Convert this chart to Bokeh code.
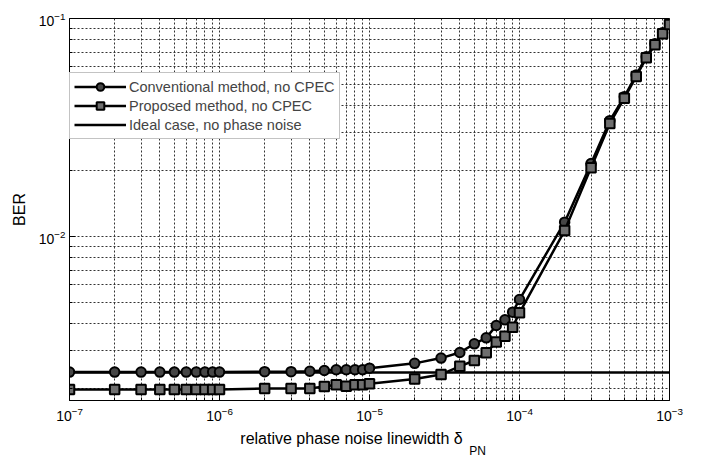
from bokeh.plotting import figure
from bokeh.models import Range1d, Legend, LegendItem, FixedTicker, LinearAxis, LinearScale
from bokeh.embed import file_html
from bokeh.resources import INLINE

# data
x_vals = [1e-7, 2e-7, 3e-7, 4e-7, 5e-7, 6e-7, 7e-7, 8e-7, 9e-7,
          1e-6, 2e-6, 3e-6, 4e-6, 5e-6, 6e-6, 7e-6, 8e-6, 9e-6,
          1e-5, 2e-5, 3e-5, 4e-5, 5e-5, 6e-5, 7e-5, 8e-5, 9e-5,
          1e-4, 2e-4, 3e-4, 4e-4, 5e-4, 6e-4, 7e-4, 8e-4, 9e-4, 1e-3]

ber_conventional = [0.00239, 0.00239, 0.00239, 0.00239, 0.00239, 0.00239, 0.00239, 0.00239, 0.00239,
                    0.00239, 0.00240, 0.00240, 0.00241, 0.00243, 0.00245, 0.00245, 0.00245, 0.00245,
                    0.00249, 0.00262, 0.00277, 0.00294, 0.00322, 0.00343, 0.00391, 0.00415, 0.00450,
                    0.00514, 0.01164, 0.0216, 0.0340, 0.0438, 0.0550, 0.0668, 0.0765, 0.0860, 0.0945]

ber_proposed = [0.00199, 0.00199, 0.00199, 0.00199, 0.00199, 0.00199, 0.00199, 0.00199, 0.00199,
                0.00199, 0.00201, 0.00201, 0.00201, 0.00205, 0.00209, 0.00206, 0.00209, 0.00209,
                0.00211, 0.00222, 0.00233, 0.00254, 0.00270, 0.00293, 0.00328, 0.00349, 0.00384,
                0.00447, 0.01065, 0.0207, 0.0330, 0.0431, 0.0542, 0.0660, 0.0757, 0.0851, 0.0939]

x_ideal = [1e-7, 1e-3]
ber_ideal = [0.00238, 0.00238]

x_major_ticks = [1e-7, 1e-6, 1e-5, 1e-4, 1e-3]
x_minor_ticks = [m * 10.0 ** e for e in range(-7, -3) for m in range(2, 10)]
y_major_ticks = [1e-2, 1e-1]
y_minor_ticks = [m * 10.0 ** e for e in range(-3, -1) for m in range(2, 10)]

labels = ["Conventional method, no CPEC", "Proposed method, no CPEC", "Ideal case, no phase noise"]
x_title_main = "relative phase noise linewidth δ"
x_title_sub = "PN"

FONT = "Liberation Sans"

p = figure(width=709, height=463, output_backend="svg", toolbar_location=None,
           x_axis_type="log", y_axis_type="log",
           x_range=Range1d(1e-7, 1e-3), y_range=Range1d(0.00177, 0.1),
           min_border_left=69, min_border_right=40, min_border_top=18, min_border_bottom=0,
           frame_width=600, frame_height=382)

p.background_fill_color = "white"
p.border_fill_color = "white"
p.outline_line_color = "black"
p.outline_line_width = 1

p.xaxis.ticker = FixedTicker(ticks=x_major_ticks, minor_ticks=x_minor_ticks)
p.yaxis.ticker = FixedTicker(ticks=y_major_ticks, minor_ticks=y_minor_ticks)

for ax in (p.xaxis[0], p.yaxis[0]):
    ax.axis_line_color = "black"
    ax.major_tick_in = 6
    ax.major_tick_out = 0
    ax.minor_tick_in = 3
    ax.minor_tick_out = 0
    ax.major_label_text_font = FONT
    ax.major_label_text_font_size = "14px"
    ax.major_label_text_color = "black"

p.xaxis.major_label_standoff = 6
p.yaxis.major_label_standoff = 4
p.yaxis.axis_label = "BER"
p.yaxis.axis_label_text_font = FONT
p.yaxis.axis_label_text_font_size = "16px"
p.yaxis.axis_label_text_font_style = "normal"
p.yaxis.axis_label_text_color = "black"
p.yaxis.axis_label_standoff = 8

for g in (p.xgrid[0], p.ygrid[0]):
    g.grid_line_color = "#333333"
    g.grid_line_dash = "2 2"
    g.grid_line_width = 1
    g.minor_grid_line_color = "#333333"
    g.minor_grid_line_dash = "2 2"
    g.minor_grid_line_width = 1

# helper pixel range (linear) for placing the x-axis title pieces
p.extra_x_ranges = {"px": Range1d(0, 600)}
p.extra_x_scales = {"px": LinearScale()}


def text_axis(label, pos, size, standoff):
    ax = LinearAxis(x_range_name="px",
                    ticker=FixedTicker(ticks=[pos], minor_ticks=[]),
                    major_label_overrides={pos: label})
    ax.axis_line_color = None
    ax.major_tick_line_color = None
    ax.minor_tick_line_color = None
    ax.major_tick_in = 0
    ax.major_tick_out = 0
    ax.minor_tick_in = 0
    ax.minor_tick_out = 0
    ax.major_label_text_font = FONT
    ax.major_label_text_font_size = size
    ax.major_label_text_color = "black"
    ax.major_label_standoff = standoff
    return ax


p.add_layout(text_axis(x_title_main, 282, "16px", 6), "below")
p.add_layout(text_axis(x_title_sub, 408, "12px", -6), "below")

# ideal
r_ideal = p.line(x_ideal, ber_ideal, line_color="black", line_width=2.5)

# conventional
l1 = p.line(x_vals, ber_conventional, line_color="black", line_width=2.5)
s1 = p.scatter(x_vals, ber_conventional, marker="circle", size=9.5,
               fill_color="#454545", line_color="black", line_width=2)

# proposed
l2 = p.line(x_vals, ber_proposed, line_color="black", line_width=2.5)
s2 = p.scatter(x_vals, ber_proposed, marker="square", size=9.5,
               fill_color="#6e6e6e", line_color="black", line_width=2)

legend = Legend(items=[LegendItem(label=labels[0], renderers=[l1, s1]),
                       LegendItem(label=labels[1], renderers=[l2, s2]),
                       LegendItem(label=labels[2], renderers=[r_ideal])],
                location=(0, 261))
legend.label_text_font = FONT
legend.label_text_font_size = "14.5px"
legend.label_standoff = 3
legend.glyph_width = 52
legend.glyph_height = 19
legend.label_height = 19
legend.spacing = 0
legend.padding = 4
legend.margin = 0
legend.border_line_color = "#888888"
legend.border_line_width = 1
legend.background_fill_color = "white"
legend.background_fill_alpha = 1
p.add_layout(legend, "center")

open("out.html", "w").write(file_html(p, INLINE))
